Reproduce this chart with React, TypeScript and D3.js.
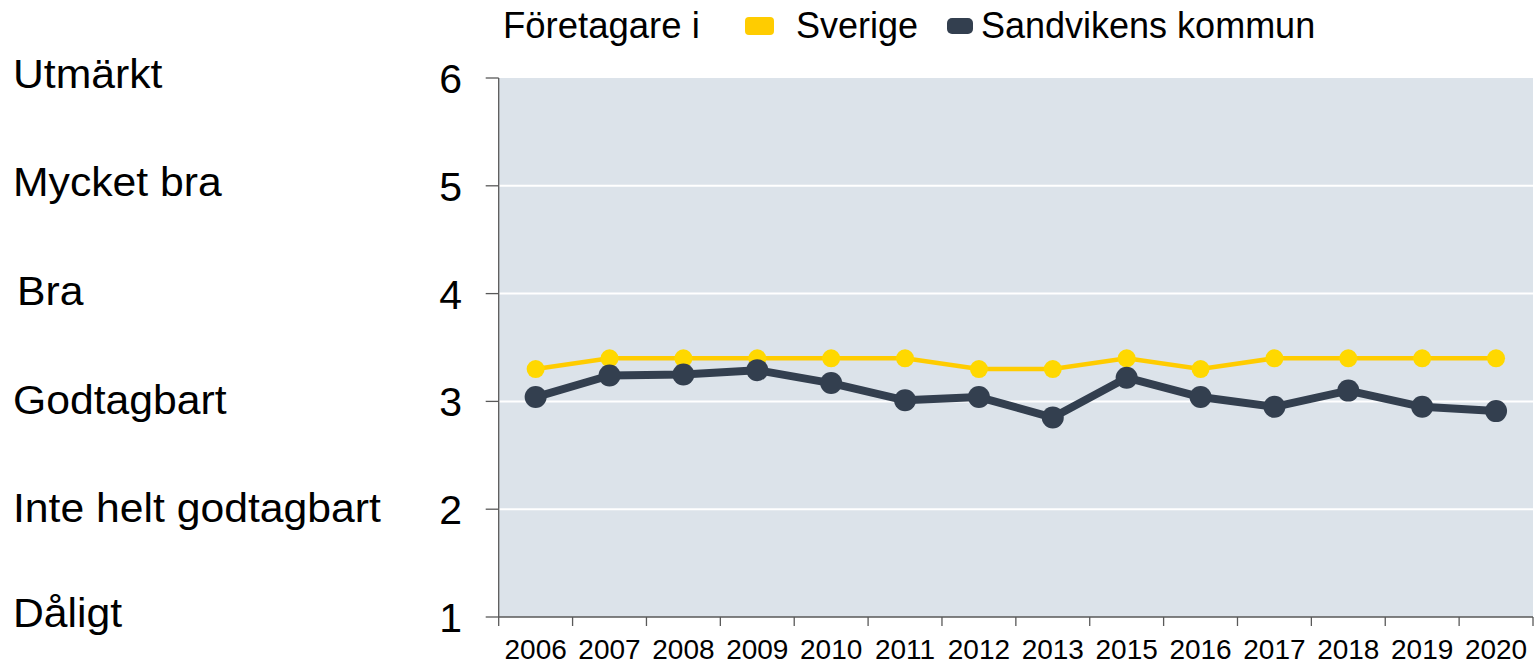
import React from "react";
import * as d3 from "d3";

const years = ["2006","2007","2008","2009","2010","2011","2012","2013","2015","2016","2017","2018","2019","2020"];
const sverige = [3.3,3.4,3.4,3.4,3.4,3.4,3.3,3.3,3.4,3.3,3.4,3.4,3.4,3.4];
const sandviken = [3.04,3.24,3.25,3.29,3.17,3.01,3.04,2.85,3.22,3.04,2.95,3.1,2.95,2.91];
const yTicks = [1,2,3,4,5,6];
const gradeLabels = ["Dåligt","Inte helt godtagbart","Godtagbart","Bra","Mycket bra","Utmärkt"];
const legendTitle = "Företagare i";
const seriesNames = ["Sverige","Sandvikens kommun"];

const W = 1534, H = 663;
const FONT = "'Liberation Sans', Arial, sans-serif";
const left = 498.7, right = 1533, top = 78, bottom = 617;

export default function App() {
  const x = d3.scaleBand<string>().domain(years).range([left, right]).padding(0);
  const y = d3.scaleLinear().domain([1, 6]).range([bottom, top]);
  const cx = (yr: string) => (x(yr) as number) + x.bandwidth() / 2;
  const line = d3.line<number>().x((_, i) => cx(years[i])).y(v => y(v));

  return (
    <svg width={W} height={H} style={{ position: "absolute", left: 0, top: 0, background: "#fff" }}>
      <rect x={left} y={top} width={right - left} height={bottom - top} fill="#DCE3EA" />
      {yTicks.filter(t => t > 1 && t < 6).map(t => (
        <line key={t} x1={left} x2={right} y1={y(t)} y2={y(t)} stroke="#fff" strokeWidth={2} />
      ))}
      {/* y axis */}
      <line x1={left} x2={left} y1={top} y2={bottom} stroke="#595959" strokeWidth={1.3} />
      {yTicks.map(t => (
        <g key={t}>
          <line x1={left - 13} x2={left} y1={y(t)} y2={y(t)} stroke="#595959" strokeWidth={1.3} />
          <text x={462} y={y(t) + 15} textAnchor="end" fontFamily={FONT} fontSize={41} fill="#000">{t}</text>
        </g>
      ))}
      {/* grade labels */}
      {gradeLabels.map((g, i) => (
        <text key={g}
          transform={`translate(${g === "Bra" ? 17 : 13},${y(yTicks[i]) + 14 - i * 0.9 + (i === 0 ? -4 : 0)}) scale(1.067,1)`}
          fontFamily={FONT} fontSize={40} fill="#000">{g}</text>
      ))}
      {/* x axis */}
      <line x1={left} x2={right} y1={bottom} y2={bottom} stroke="#595959" strokeWidth={1.3} />
      {years.map(yr => (
        <line key={"t" + yr} x1={x(yr)} x2={x(yr)} y1={bottom} y2={bottom + 9} stroke="#595959" strokeWidth={1.3} />
      ))}
      <line x1={right} x2={right} y1={bottom} y2={bottom + 9} stroke="#595959" strokeWidth={1.3} />
      {years.map(yr => (
        <text key={"l" + yr} x={cx(yr)} y={658.5} textAnchor="middle" fontFamily={FONT} fontSize={28} fill="#000">{yr}</text>
      ))}
      {/* series */}
      <path d={line(sverige) || ""} fill="none" stroke="#FFCC00" strokeWidth={4.5} />
      {sverige.map((v, i) => (
        <circle key={"s" + i} cx={cx(years[i])} cy={y(v)} r={9} fill="#FFD800" />
      ))}
      <path d={line(sandviken) || ""} fill="none" stroke="#333F4F" strokeWidth={8} strokeLinejoin="round" />
      {sandviken.map((v, i) => (
        <circle key={"k" + i} cx={cx(years[i])} cy={y(v)} r={11} fill="#333F4F" />
      ))}
      {/* legend */}
      <text x={503} y={38} fontFamily={FONT} fontSize={36.5} fill="#000">{legendTitle}</text>
      <rect x={745} y={17} width={29} height={18} rx={4} fill="#FFCC00" />
      <text x={796} y={38} fontFamily={FONT} fontSize={36} fill="#000">{seriesNames[0]}</text>
      <rect x={947} y={18} width={26} height={16} rx={5} fill="#333F4F" />
      <text x={981} y={38} fontFamily={FONT} fontSize={36} fill="#000">{seriesNames[1]}</text>
    </svg>
  );
}
